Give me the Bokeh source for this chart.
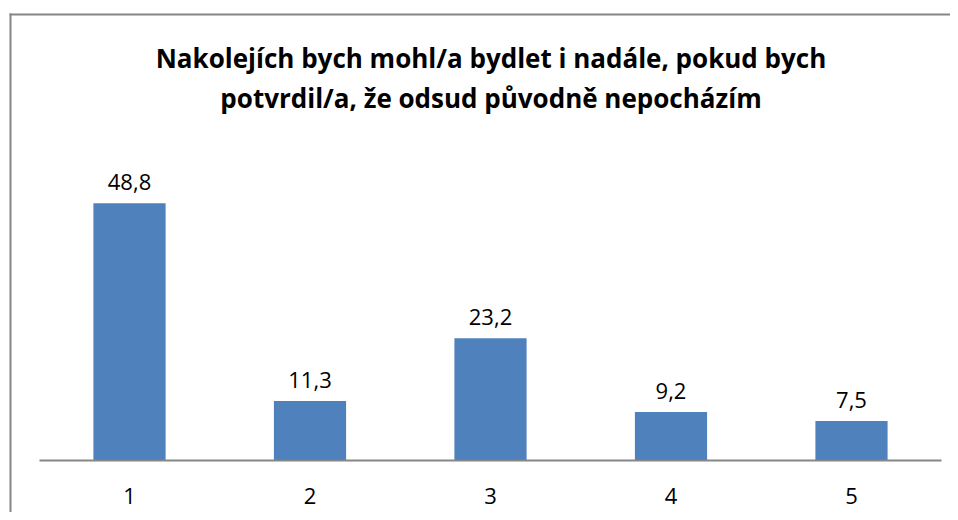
from bokeh.plotting import figure
from bokeh.models import Range1d, FixedTicker, ColumnDataSource
from bokeh.core.properties import value
from bokeh.embed import file_html
from bokeh.resources import INLINE

# ---- data ----
categories = ["1", "2", "3", "4", "5"]
positions = [1, 2, 3, 4, 5]
values = [48.8, 11.3, 23.2, 9.2, 7.5]
labels = ["48,8", "11,3", "23,2", "9,2", "7,5"]
title_lines = ["Nakolejích bych mohl/a bydlet i nadále, pokud bych",
               "potvrdil/a, že odsud původně nepocházím"]

W, H = 950, 512
# page pixel -> data helpers (layout only)
X_C1, X_STEP = 129.0, 180.5
Y_BASE, Y_SCALE = 460.0, 5.27


def px_x(px):
    return 1 + (px - X_C1) / X_STEP


def px_y(py):
    return (Y_BASE - py) / Y_SCALE


FONT = "Open Sans"

p = figure(width=W, height=H, output_backend="svg", toolbar_location=None,
           x_range=Range1d(px_x(0), px_x(W)),
           y_range=Range1d(px_y(H), px_y(0)),
           y_axis_location=None, min_border=0)
p.outline_line_color = None
p.xgrid.visible = False
p.ygrid.visible = False
p.background_fill_color = "white"
p.border_fill_color = "white"

src = ColumnDataSource(dict(x=positions, top=values, lab=labels))
p.vbar(x="x", top="top", width=0.4, source=src, fill_color="#4F81BD",
       line_color="#4F81BD", line_width=0)

p.text(x="x", y="top", text="lab", source=src, text_align="center",
       text_baseline="middle", y_offset=-21, text_font=value(FONT),
       text_font_size="22px", text_color="#000000")

# title lines
for line, base in zip(title_lines, [57, 97]):
    p.text(x=[px_x(490.5)], y=[px_y(base)], text=[line], text_align="center",
           text_baseline="alphabetic", text_font=value(FONT), text_font_style="bold",
           text_font_size="26px", text_color="#000000")

# chart border (left and top)
p.segment(x0=[px_x(10), px_x(9)], y0=[px_y(13), px_y(14)],
          x1=[px_x(10), px_x(W)], y1=[px_y(H), px_y(14)],
          line_color="#868686", line_width=2)

ax = p.xaxis[0]
ax.fixed_location = 0
ax.bounds = (0.5, 5.5)
ax.ticker = FixedTicker(ticks=positions)
ax.major_label_overrides = {pos: c for pos, c in zip(positions, categories)}
ax.axis_line_color = "#868686"
ax.axis_line_width = 2
ax.major_tick_line_color = None
ax.minor_tick_line_color = None
ax.major_label_text_font = FONT
ax.major_label_text_font_size = "22px"
ax.major_label_text_color = "#000000"
ax.major_label_standoff = 21

open("out.html", "w").write(file_html(p, INLINE))
